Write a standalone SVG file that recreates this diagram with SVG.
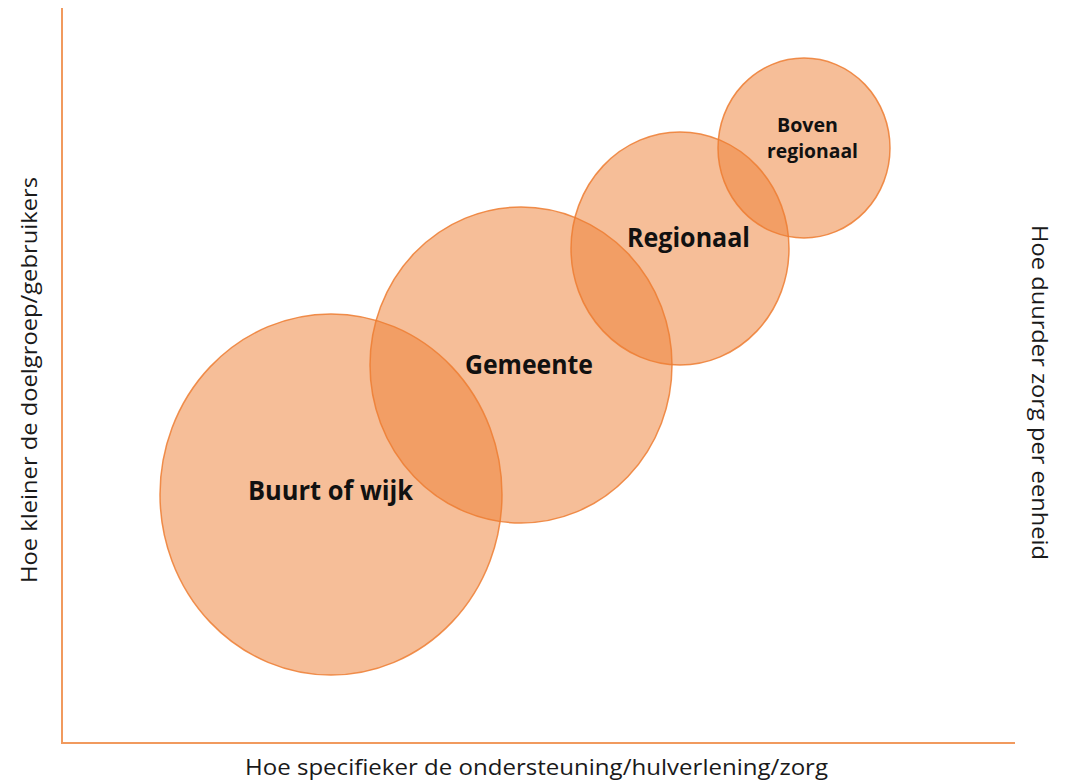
<svg xmlns="http://www.w3.org/2000/svg" width="1068" height="781" viewBox="0 0 1068 781">
  <style>
    .bubble { fill: #ED7D31; fill-opacity: 0.5; stroke: #ED7D31; stroke-opacity: 0.85; stroke-width: 1.5; }
    .axis { stroke: #F19A5E; stroke-width: 2; fill: none; }
    .big { font-family: "Open Sans", "Liberation Sans", sans-serif; font-weight: 700; font-size: 26px; fill: #111111; text-anchor: middle; }
    .small { font-family: "Open Sans", "Liberation Sans", sans-serif; font-weight: 700; font-size: 20px; fill: #111111; text-anchor: middle; }
    .axislabel { font-family: "Open Sans", "Liberation Sans", sans-serif; font-weight: 400; font-size: 22px; fill: #1a1a1a; text-anchor: middle; }
  </style>
  <rect width="1068" height="781" fill="#ffffff"/>
  <g id="axes">
    <line class="axis" x1="62" y1="8" x2="62" y2="743"/>
    <line class="axis" x1="61" y1="743" x2="1015" y2="743"/>
  </g>
  <g id="connectors"></g>
  <g id="node-buurt">
    <ellipse class="bubble" cx="331" cy="494.5" rx="171" ry="180.5"/>
  </g>
  <g id="node-gemeente">
    <ellipse class="bubble" cx="521" cy="365" rx="151" ry="158"/>
  </g>
  <g id="node-regionaal">
    <ellipse class="bubble" cx="680" cy="248.5" rx="109" ry="116.5"/>
  </g>
  <g id="node-boven">
    <ellipse class="bubble" cx="804" cy="148" rx="86" ry="90"/>
  </g>
  <g id="labels">
    <text class="big" x="330.5" y="500" textLength="165" lengthAdjust="spacingAndGlyphs">Buurt of wijk</text>
    <text class="big" x="529" y="374" textLength="128" lengthAdjust="spacingAndGlyphs">Gemeente</text>
    <text class="big" x="688.5" y="247" textLength="123" lengthAdjust="spacingAndGlyphs">Regionaal</text>
    <text class="small" x="807.5" y="132" textLength="61" lengthAdjust="spacingAndGlyphs">Boven</text>
    <text class="small" x="812.5" y="158" textLength="91" lengthAdjust="spacingAndGlyphs">regionaal</text>
  </g>
  <g id="axis-labels">
    <text class="axislabel" x="536.5" y="775" textLength="583" lengthAdjust="spacingAndGlyphs">Hoe specifieker de ondersteuning/hulverlening/zorg</text>
    <text class="axislabel" transform="translate(37 380) rotate(-90)" x="0" y="0" textLength="406" lengthAdjust="spacingAndGlyphs">Hoe kleiner de doelgroep/gebruikers</text>
    <text class="axislabel" transform="translate(1032 392.5) rotate(90)" x="0" y="0" textLength="335" lengthAdjust="spacingAndGlyphs">Hoe duurder zorg per eenheid</text>
  </g>
</svg>
